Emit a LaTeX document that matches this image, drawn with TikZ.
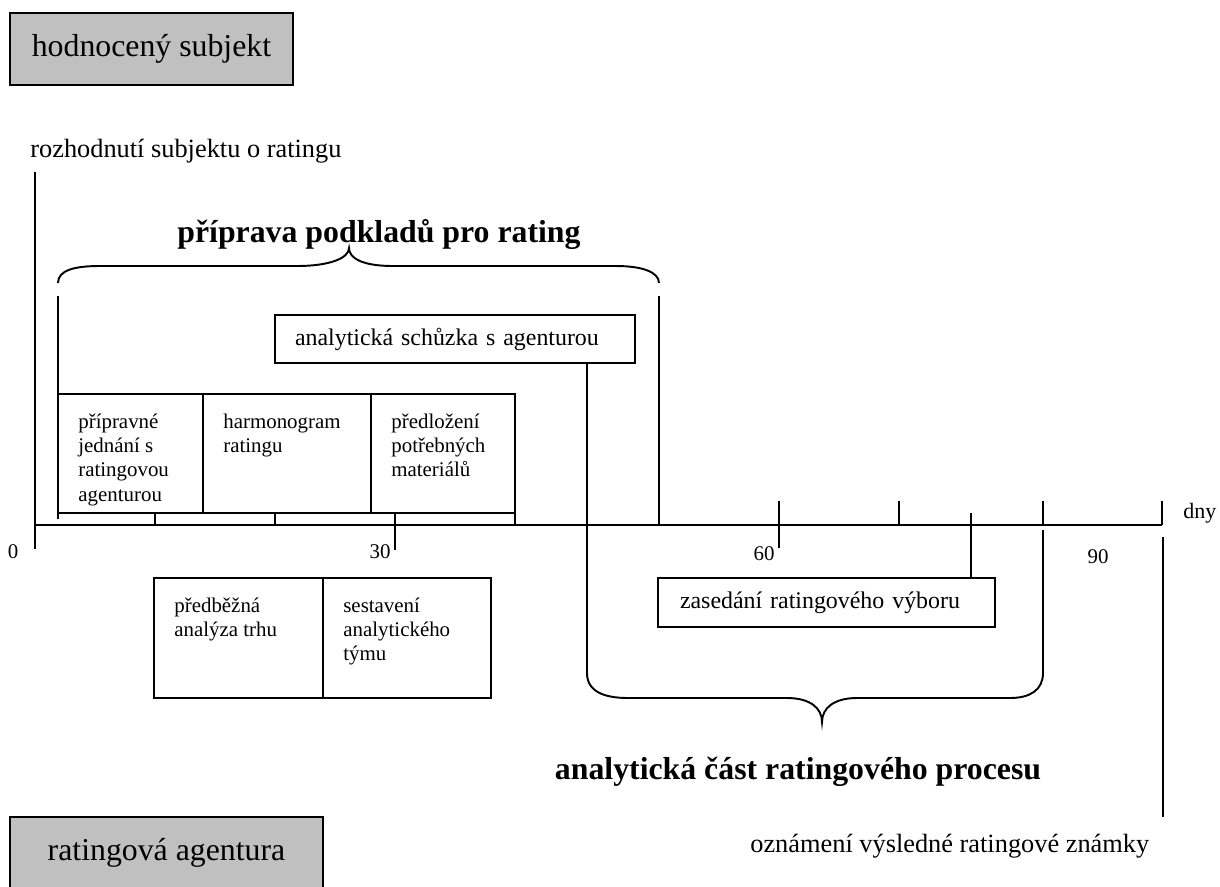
\documentclass[tikz,border=0pt]{standalone}
\usepackage{fontspec}
\setmainfont{Liberation Serif}
\usetikzlibrary{positioning}
\definecolor{boxgray}{HTML}{C0C0C0}
\newcommand{\px}{0.02cm}
\tikzset{
  hlavni/.style={draw, line width=1.2pt, fill=boxgray, anchor=north west, inner sep=0pt, outer sep=0pt,
    font=\fontsize{18.1}{22}\selectfont},
  bunka/.style={draw, line width=1.1pt, anchor=north west, inner sep=0pt, outer sep=0pt},
  popis/.style={anchor=north west, align=left, inner xsep=0.4cm, inner ysep=0.39cm,
    font=\fontsize{11.9}{13.8}\selectfont},
  ramec/.style={draw, line width=1.1pt, anchor=north west, inner sep=0pt, outer sep=0pt, align=left,
    font=\fontsize{13.6}{16}\selectfont},
  cara/.style={line width=1.1pt},
  nadpis/.style={font=\bfseries\fontsize{18.1}{22}\selectfont, inner sep=0pt, anchor=base},
  cislo/.style={font=\fontsize{11.9}{14}\selectfont, inner sep=0pt, anchor=base},
  poznamka/.style={font=\fontsize{15}{18}\selectfont, inner sep=0pt, anchor=base west},
}
\begin{document}
\begin{tikzpicture}[x=0.02cm, y=-0.02cm]
\useasboundingbox (0,0) rectangle (1220,886);
% hlavni ucastnici
\node[hlavni, minimum width=283*\px, minimum height=72*\px] (subjekt) at (10,13) {hodnocený subjekt};
\node[hlavni, minimum width=313*\px, minimum height=72*\px] (agentura) at (10,817) {ratingová agentura};
\node[poznamka] (rozhodnuti) at (30,157) {rozhodnutí subjektu o ratingu};
\node[poznamka] (oznameni) at (750,852) {oznámení výsledné ratingové známky};
% casova osa
\coordinate (osa0) at (35,525);
\coordinate (osaK) at (1162,525);
\draw[cara] (osa0) -- (osaK);
\draw[cara] (35,172) -- (35,549);
\node[cislo] (d0) at (13,558) {0};
\node[cislo] (d30) at (380,558) {30};
\node[cislo] (d60) at (764,560) {60};
\node[cislo] (d90) at (1098,563) {90};
\node[cislo, anchor=base west, font=\fontsize{12.5}{15}\selectfont] (dny) at (1183,518) {dny};
% priprava podkladu
\node[bunka, minimum width=145*\px, minimum height=119*\px] (jednani) at (58,394) {};
\node[bunka, minimum width=168*\px, minimum height=119*\px] (harmonogram) at (jednani.north east) {};
\node[bunka, minimum width=144*\px, minimum height=119*\px] (predlozeni) at (harmonogram.north east) {};
\node[popis] (tjednani) at (jednani.north west) {přípravné\\jednání s\\ratingovou\\agenturou};
\node[popis] (tharmonogram) at (harmonogram.north west) {harmonogram\\ratingu};
\node[popis] (tpredlozeni) at (predlozeni.north west) {předložení\\potřebných\\materiálů};
\node[ramec, minimum width=360*\px, minimum height=48*\px, text width=320*\px] (schuzka) at (275,315) {analytická schůzka s agenturou};
\node[bunka, minimum width=169*\px, minimum height=120*\px] (predbezna) at (154,578) {};
\node[bunka, minimum width=168*\px, minimum height=120*\px] (sestaveni) at (predbezna.north east) {};
\node[popis] (tpredbezna) at (predbezna.north west) {předběžná\\analýza trhu};
\node[popis] (tsestaveni) at (sestaveni.north west) {sestavení\\analytického\\týmu};
\node[ramec, minimum width=337*\px, minimum height=49*\px, text width=293*\px] (zasedani) at (658,578) {zasedání ratingového výboru};
% svisle cary a znacky
\draw[cara] (58,296) -- (jednani.north west);
\draw[cara] (jednani.south west) -- (58,519);
\draw[cara] (659,296) -- (659,525);
\draw[cara] (155,513) -- (155,525);
\draw[cara] (275,513) -- (275,525);
\draw[cara] (395,513) -- (395,550);
\draw[cara] (predlozeni.south east) -- (515,525);
\draw[cara] (779,501) -- (779,548);
\draw[cara] (899,501) -- (899,525);
\draw[cara] (971,513) -- (zasedani.north -| 971,0);
\draw[cara] (1043,501) -- (1043,525);
\draw[cara] (1162,501) -- (osaK);
\draw[cara] (1163,537) -- (1163,817);
% zavorky
\draw[cara] (58,283) .. controls (58,270) and (75,266) .. (100,266) -- (297,266)
  .. controls (330,266) and (349,258) .. (349,248)
  .. controls (349,258) and (362,266) .. (393,266) -- (616,266)
  .. controls (642,266) and (659,272) .. (659,283);
\draw[cara] (schuzka.south -| 587,0) -- (587,673) .. controls (587,692) and (605,698) .. (628,698) -- (787,698)
  .. controls (810,698) and (822,708) .. (822,722)
  .. controls (822,708) and (834,698) .. (857,698) -- (1010,698)
  .. controls (1030,698) and (1043,690) .. (1043,673) -- (1043,530);
\node[nadpis] (priprava) at (379,242) {příprava podkladů pro rating};
\node[nadpis] (analyticka) at (798,779) {analytická část ratingového procesu};
\end{tikzpicture}
\end{document}
